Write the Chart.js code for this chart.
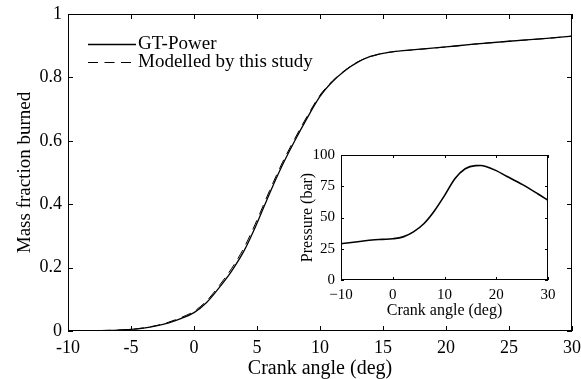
<!DOCTYPE html>
<html>
<head>
<meta charset="utf-8">
<script src="https://cdn.jsdelivr.net/npm/chart.js@4.4.1/dist/chart.umd.min.js"></script>
<style>
  html, body { margin: 0; padding: 0; background: #fff; }
  #wrap { position: relative; width: 581px; height: 379px; }
  #mainChart { position: absolute; left: 0; top: 0; }
  #insetChart { position: absolute; left: 290px; top: 140px; }
</style>
</head>
<body>
<div id="wrap">
  <canvas id="mainChart" width="581" height="379"></canvas>
  <canvas id="insetChart" width="280" height="185"></canvas>
</div>
<script>
// main plot - mass fraction burned
var angle = [-10, -8, -6, -5, -4, -3, -2, -1, 0, 1, 2, 3, 4, 5, 6, 7, 8, 9, 10, 11, 12, 13, 14, 15, 16, 18, 20, 22, 25, 28, 30];
var gtPower = [0, 0.001, 0.003, 0.005, 0.009, 0.016, 0.026, 0.04, 0.058, 0.09, 0.137, 0.19, 0.255, 0.34, 0.434, 0.522, 0.6, 0.673, 0.74, 0.787, 0.822, 0.848, 0.866, 0.876, 0.882, 0.889, 0.896, 0.904, 0.914, 0.923, 0.93];
var modelled = [0, 0.001, 0.003, 0.005, 0.01, 0.017, 0.028, 0.043, 0.062, 0.095, 0.143, 0.198, 0.265, 0.35, 0.443, 0.53, 0.607, 0.679, 0.744, 0.789, 0.823, 0.849, 0.866, 0.876, 0.882, 0.889, 0.896, 0.904, 0.914, 0.923, 0.93];
var mainXTicks = [-10, -5, 0, 5, 10, 15, 20, 25, 30];
var mainYTicks = [0, 0.2, 0.4, 0.6, 0.8, 1];

// inset - cylinder pressure
var insetAngle = [-10, -8, -6, -4, -2, 0, 2, 4, 6, 8, 10, 12, 14, 16, 17, 18, 20, 22, 25, 28, 30];
var pressure = [29, 30, 31, 32, 32.5, 33, 34.5, 38.5, 45, 55, 67.5, 81, 89, 91.5, 91.6, 90.8, 87.5, 83, 76.5, 69, 63.7];
var insetXTicks = [-10, 0, 10, 20, 30];
var insetYTicks = [0, 25, 50, 75, 100];

var serif = "'Liberation Serif', 'Times New Roman', serif";

function toPoints(xs, ys) {
  return xs.map(function(v, i) { return {x: v, y: ys[i]}; });
}

// keep the plot area where we put it, ignore label overhang
function noPad(s) {
  s.paddingLeft = 0; s.paddingRight = 0; s.paddingTop = 0; s.paddingBottom = 0;
}

// box round the plot area with inward ticks (matlab look)
var boxTicks = {
  id: 'boxTicks',
  afterDraw: function(chart, args, opts) {
    var ctx = chart.ctx;
    var a = chart.chartArea;
    var x = chart.scales.x, y = chart.scales.y;
    var len = opts.len || 5;
    ctx.save();
    ctx.strokeStyle = '#000';
    ctx.lineWidth = 1;
    ctx.strokeRect(Math.round(a.left) + 0.5, Math.round(a.top) + 0.5, Math.round(a.width) - 1, Math.round(a.height) - 1);
    ctx.beginPath();
    x.ticks.forEach(function(t) {
      var px = Math.round(x.getPixelForValue(t.value)) + 0.5;
      ctx.moveTo(px, a.bottom); ctx.lineTo(px, a.bottom - len);
      ctx.moveTo(px, a.top); ctx.lineTo(px, a.top + len);
    });
    y.ticks.forEach(function(t) {
      var py = Math.round(y.getPixelForValue(t.value)) + 0.5;
      ctx.moveTo(a.left, py); ctx.lineTo(a.left + len, py);
      ctx.moveTo(a.right, py); ctx.lineTo(a.right - len, py);
    });
    ctx.stroke();
    ctx.restore();
  }
};

// legend drawn inside the axes, top left
var innerLegend = {
  id: 'innerLegend',
  afterDraw: function(chart, args, opts) {
    if (!opts.show) return;
    var ctx = chart.ctx;
    ctx.save();
    ctx.font = opts.fontSize + 'px ' + serif;
    ctx.textBaseline = 'middle';
    ctx.fillStyle = '#000';
    chart.data.datasets.forEach(function(ds, i) {
      var yy = opts.y + i * opts.gap + 0.5;
      ctx.beginPath();
      ctx.strokeStyle = ds.borderColor;
      ctx.lineWidth = ds.borderWidth;
      ctx.setLineDash(ds.borderDash || []);
      ctx.moveTo(opts.x, yy);
      ctx.lineTo(opts.x + opts.sample, yy);
      ctx.stroke();
      ctx.setLineDash([]);
      ctx.fillText(ds.label, opts.x + opts.sample + 2, yy);
    });
    ctx.restore();
  }
};

var mainCtx = document.getElementById('mainChart').getContext('2d');
var mainChart = new Chart(mainCtx, {
  type: 'line',
  data: {
    datasets: [{
      label: 'GT-Power',
      data: toPoints(angle, gtPower),
      borderColor: '#000',
      borderWidth: 1.3,
      pointRadius: 0,
      cubicInterpolationMode: 'monotone'
    }, {
      label: 'Modelled by this study',
      data: toPoints(angle, modelled),
      borderColor: '#000',
      borderWidth: 1,
      borderDash: [10, 6.5],
      pointRadius: 0,
      cubicInterpolationMode: 'monotone'
    }]
  },
  options: {
    responsive: false,
    animation: false,
    layout: { padding: { left: 0, right: 9, top: 14, bottom: 0 } },
    plugins: {
      legend: { display: false },
      tooltip: { enabled: false },
      boxTicks: { len: 5 },
      innerLegend: { show: true, x: 88, y: 44, gap: 18, sample: 48, fontSize: 19 }
    },
    scales: {
      x: {
        type: 'linear',
        min: -10, max: 30,
        afterFit: function(s) { s.height = 48; noPad(s); },
        afterBuildTicks: function(s) { s.ticks = mainXTicks.map(function(v) { return {value: v}; }); },
        grid: { display: false, drawTicks: false },
        border: { display: false },
        ticks: {
          autoSkip: false, maxRotation: 0, padding: 6, color: '#000',
          font: { family: serif, size: 18 },
          callback: function(v) { return String(v); }
        },
        title: {
          display: true, text: 'Crank angle (deg)', color: '#000',
          font: { family: serif, size: 20, lineHeight: 1 },
          padding: { top: 0, bottom: 0 }
        }
      },
      y: {
        min: 0, max: 1,
        afterFit: function(s) { s.width = 68; noPad(s); },
        afterBuildTicks: function(s) { s.ticks = mainYTicks.map(function(v) { return {value: v}; }); },
        grid: { display: false, drawTicks: false },
        border: { display: false },
        ticks: {
          padding: 6, color: '#000',
          font: { family: serif, size: 18 },
          callback: function(v) { return String(Math.round(v * 10) / 10); }
        },
        title: {
          display: true, text: 'Mass fraction burned', color: '#000',
          font: { family: serif, size: 19, lineHeight: 1 },
          padding: { top: 15.5, bottom: 0 }
        }
      }
    }
  },
  plugins: [boxTicks, innerLegend]
});

var insetCtx = document.getElementById('insetChart').getContext('2d');
var insetChart = new Chart(insetCtx, {
  type: 'line',
  data: {
    datasets: [{
      label: 'Pressure',
      data: toPoints(insetAngle, pressure),
      borderColor: '#000',
      borderWidth: 1.6,
      pointRadius: 0,
      cubicInterpolationMode: 'monotone'
    }]
  },
  options: {
    responsive: false,
    animation: false,
    layout: { padding: { left: 0, right: 22, top: 15, bottom: 0 } },
    plugins: {
      legend: { display: false },
      tooltip: { enabled: false },
      boxTicks: { len: 3 },
      innerLegend: { show: false }
    },
    scales: {
      x: {
        type: 'linear',
        min: -10, max: 30,
        afterFit: function(s) { s.height = 45; noPad(s); },
        afterBuildTicks: function(s) { s.ticks = insetXTicks.map(function(v) { return {value: v}; }); },
        grid: { display: false, drawTicks: false },
        border: { display: false },
        ticks: {
          autoSkip: false, maxRotation: 0, padding: 6, color: '#000',
          font: { family: serif, size: 15 },
          callback: function(v) { return v < 0 ? '\u2212' + Math.abs(v) : String(v); }
        },
        title: {
          display: true, text: 'Crank angle (deg)', color: '#000',
          font: { family: serif, size: 16, lineHeight: 1.2 },
          padding: { top: 0, bottom: 5 }
        }
      },
      y: {
        min: 0, max: 100,
        afterFit: function(s) { s.width = 51; noPad(s); },
        afterBuildTicks: function(s) { s.ticks = insetYTicks.map(function(v) { return {value: v}; }); },
        grid: { display: false, drawTicks: false },
        border: { display: false },
        ticks: {
          padding: 6, color: '#000',
          font: { family: serif, size: 15 },
          callback: function(v) { return String(v); }
        },
        title: {
          display: true, text: 'Pressure (bar)', color: '#000',
          font: { family: serif, size: 16, lineHeight: 1.2 },
          padding: { top: 8, bottom: 0 }
        }
      }
    }
  },
  plugins: [boxTicks, innerLegend]
});
</script>
</body>
</html>
